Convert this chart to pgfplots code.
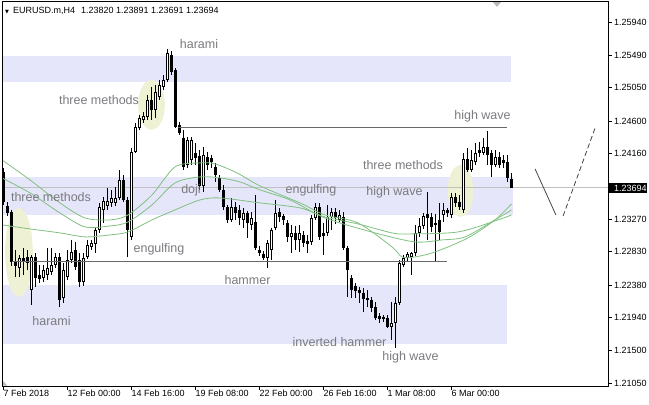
\documentclass[border=0pt]{standalone}
\usepackage{fontspec}
\setmainfont{Liberation Sans}
\newfontfamily\dejavu{DejaVu Sans}
\usepackage{pgfplots}
\pgfplotsset{compat=1.18}
\usepackage{pgfplotstable}

\definecolor{band}{RGB}{230,230,250}
\definecolor{ellip}{RGB}{238,241,212}
\definecolor{ma}{RGB}{128,192,128}
\definecolor{trend}{RGB}{105,105,105}
\definecolor{pline}{RGB}{192,192,192}
\definecolor{lbl}{RGB}{122,122,128}
\definecolor{fc}{RGB}{70,70,70}

% H4 bars, i = bar index (4 px per bar)
\pgfplotstableread{
i o h l c
0 1.23910 1.23964 1.23464 1.23504
1 1.23450 1.23504 1.23315 1.23355
2 1.23369 1.23396 1.22638 1.22692
3 1.22706 1.22855 1.22489 1.22638
4 1.22611 1.22787 1.22489 1.22746
5 1.22706 1.22882 1.22516 1.22746
6 1.22760 1.22855 1.22584 1.22679
7 1.22313 1.22787 1.22110 1.22760
8 1.22760 1.22814 1.22354 1.22476
9 1.22516 1.22652 1.22408 1.22462
10 1.22476 1.22652 1.22421 1.22584
11 1.22516 1.22882 1.22448 1.22611
12 1.22557 1.22882 1.22516 1.22652
13 1.22652 1.22814 1.22611 1.22760
14 1.22760 1.22814 1.22083 1.22178
15 1.22205 1.22679 1.22137 1.22584
16 1.22489 1.22855 1.22448 1.22719
17 1.22719 1.22990 1.22679 1.22827
18 1.22855 1.22963 1.22584 1.22625
19 1.22719 1.22814 1.22354 1.22421
20 1.22421 1.22814 1.22367 1.22746
21 1.22760 1.22990 1.22733 1.22922
22 1.22895 1.22990 1.22855 1.22949
23 1.22936 1.23152 1.22814 1.23125
24 1.23125 1.23491 1.23085 1.23437
25 1.23396 1.23572 1.23220 1.23518
26 1.23450 1.23694 1.23396 1.23518
27 1.23491 1.23667 1.23437 1.23558
28 1.23491 1.23707 1.23450 1.23558
29 1.23558 1.23937 1.23531 1.23802
30 1.23802 1.23870 1.23504 1.23531
31 1.23531 1.23572 1.22760 1.23125
32 1.23031 1.24235 1.22990 1.24181
33 1.24181 1.24573 1.24167 1.24519
34 1.24506 1.24682 1.24479 1.24641
35 1.24614 1.24722 1.24573 1.24668
36 1.24655 1.24952 1.24614 1.24885
37 1.24885 1.25061 1.24614 1.24749
38 1.24749 1.25088 1.24641 1.24993
39 1.24925 1.25155 1.24885 1.25088
40 1.25061 1.25223 1.25020 1.25155
41 1.25155 1.25575 1.25128 1.25521
42 1.25494 1.25548 1.25223 1.25264
43 1.25291 1.25318 1.24506 1.24519
44 1.24546 1.24587 1.24411 1.24438
45 1.24370 1.24479 1.23937 1.23978
46 1.24005 1.24384 1.23964 1.24343
47 1.24073 1.24384 1.24005 1.24343
48 1.24167 1.24303 1.24005 1.24100
49 1.24127 1.24208 1.23667 1.23721
50 1.23721 1.24249 1.23639 1.24140
51 1.24113 1.24181 1.23937 1.24005
52 1.24100 1.24140 1.23964 1.24046
53 1.23978 1.24032 1.23775 1.23870
54 1.23829 1.23870 1.23639 1.23667
55 1.23667 1.23734 1.23396 1.23437
56 1.23437 1.23464 1.23220 1.23261
57 1.23261 1.23558 1.23233 1.23437
58 1.23437 1.23504 1.23261 1.23355
59 1.23396 1.23464 1.23193 1.23288
60 1.23261 1.23423 1.23152 1.23355
61 1.23355 1.23382 1.23017 1.23220
62 1.23193 1.23369 1.23125 1.23288
63 1.23233 1.23599 1.22855 1.22882
64 1.22855 1.22909 1.22773 1.22814
65 1.22800 1.22841 1.22719 1.22746
66 1.22746 1.22990 1.22611 1.22949
67 1.22855 1.23152 1.22719 1.23125
68 1.23152 1.23531 1.23125 1.23355
69 1.23369 1.23423 1.23233 1.23301
70 1.23315 1.23342 1.23193 1.23261
71 1.23220 1.23261 1.22963 1.23031
72 1.23031 1.23193 1.22814 1.23085
73 1.23085 1.23179 1.22855 1.22990
74 1.22990 1.23193 1.22827 1.23085
75 1.23058 1.23112 1.22895 1.22949
76 1.22936 1.23058 1.22814 1.22976
77 1.22963 1.23328 1.22922 1.23288
78 1.23288 1.23491 1.23261 1.23437
79 1.23437 1.23491 1.22990 1.23031
80 1.23044 1.23220 1.22787 1.23085
81 1.23085 1.23464 1.23044 1.23301
82 1.23301 1.23423 1.23125 1.23369
83 1.23369 1.23423 1.23206 1.23288
84 1.23261 1.23396 1.23233 1.23328
85 1.23301 1.23369 1.22855 1.22882
86 1.22882 1.22909 1.22218 1.22584
87 1.22476 1.22516 1.22205 1.22313
88 1.22367 1.22408 1.22205 1.22300
89 1.22313 1.22354 1.22137 1.22273
90 1.22273 1.22340 1.22015 1.22191
91 1.22178 1.22313 1.22083 1.22205
92 1.22178 1.22218 1.22015 1.22070
93 1.22083 1.22151 1.21907 1.21934
94 1.21961 1.22002 1.21867 1.21921
95 1.21921 1.21975 1.21880 1.21948
96 1.21934 1.21975 1.21799 1.21812
97 1.21812 1.22151 1.21636 1.21867
98 1.21867 1.22218 1.21528 1.22137
99 1.22137 1.22719 1.22110 1.22679
100 1.22652 1.22787 1.22625 1.22746
101 1.22746 1.22827 1.22692 1.22800
102 1.22760 1.22827 1.22516 1.22814
103 1.22814 1.23193 1.22773 1.23085
104 1.23085 1.23288 1.23031 1.23179
105 1.23179 1.23355 1.23139 1.23315
106 1.23342 1.23639 1.22990 1.23288
107 1.23301 1.23355 1.23098 1.23166
108 1.23193 1.23342 1.22692 1.23220
109 1.23261 1.23491 1.22990 1.23098
110 1.23328 1.23491 1.23233 1.23396
111 1.23355 1.23423 1.23301 1.23396
112 1.23328 1.23626 1.23288 1.23572
113 1.23572 1.23626 1.23437 1.23491
114 1.23504 1.23599 1.23396 1.23437
115 1.23396 1.24167 1.23355 1.24086
116 1.24086 1.24235 1.23910 1.23937
117 1.23937 1.24208 1.23910 1.24073
118 1.24046 1.24303 1.24005 1.24167
119 1.24167 1.24316 1.24113 1.24208
120 1.24167 1.24370 1.24140 1.24249
121 1.24249 1.24465 1.24005 1.24140
122 1.24167 1.24208 1.23843 1.24005
123 1.24005 1.24208 1.23978 1.24113
124 1.24113 1.24181 1.23964 1.24005
125 1.24032 1.24140 1.23964 1.24073
126 1.24046 1.24140 1.23775 1.23829
127 1.23820 1.23891 1.23691 1.23694
}\candles

\pgfplotsset{
  candle/.style 2 args={forget plot, draw=none, mark=none,
    error bars/y dir=both, error bars/y explicit, error bars/error mark=none,
    error bars/draw error bar/.code 2 args={\draw[#1, line width=#2, line cap=butt] ##1 -- ##2;}},
}

\begin{document}
\begin{tikzpicture}
\begin{axis}[
  scale only axis,
  width=606bp, height=384bp,
  xmin=-0.375, xmax=151.125,
  ymin=1.21013, ymax=1.26210,
  axis on top,
  axis line style={line width=1bp, black},
  tick align=outside,
  major tick length=4bp,
  tick style={black, line width=0.8bp},
  xtick pos=left, ytick pos=right,
  yticklabel pos=right,
  xtick={0,16,32,48,64,80,96,112},
  xticklabels={7 Feb 2018,12 Feb 00:00,14 Feb 16:00,19 Feb 08:00,22 Feb 00:00,26 Feb 16:00,1 Mar 08:00,6 Mar 00:00},
  ytick={1.2105,1.215,1.2194,1.2238,1.2283,1.2327,1.2416,1.246,1.2505,1.2549,1.2594},
  yticklabels={1.21050,1.21500,1.21940,1.22380,1.22830,1.23270,1.24160,1.24600,1.25050,1.25490,1.25940},
  ticklabel style={font=\fontsize{9bp}{10bp}\selectfont},
  xticklabel style={anchor=north west, inner sep=0pt},
  yticklabel style={anchor=west, inner sep=0pt, xshift=2bp},
]

% zones
\addplot[fill=band, draw=none, forget plot] coordinates {(-1,1.25480)(126.9,1.25480)(126.9,1.25128)(-1,1.25128)};
\addplot[fill=band, draw=none, forget plot] coordinates {(-1,1.23842)(127.4,1.23842)(127.4,1.23328)(-1,1.23328)};
\addplot[fill=band, draw=none, forget plot] coordinates {(-1,1.22380)(125.9,1.22380)(125.9,1.21582)(-1,1.21582)};

% highlighted patterns
\addplot[fill=ellip, draw=none, smooth, forget plot] coordinates {
(40.375,1.24817)(39.923,1.24986)(38.688,1.25110)(37,1.25155)(35.312,1.25110)(34.077,1.24986)
(33.625,1.24817)(34.077,1.24648)(35.312,1.24524)(37,1.24479)(38.688,1.24524)(39.923,1.24648)(40.375,1.24817)};
\addplot[fill=ellip, draw=none, smooth, forget plot] coordinates {
(7.375,1.22821)(6.906,1.23122)(5.625,1.23342)(3.875,1.23423)(2.125,1.23342)(0.844,1.23122)
(0.375,1.22821)(0.844,1.22520)(2.125,1.22300)(3.875,1.22219)(5.625,1.22300)(6.906,1.22520)(7.375,1.22821)};
\addplot[fill=ellip, draw=none, smooth, forget plot] coordinates {
(117.5,1.23653)(117.065,1.23829)(115.875,1.23958)(114.25,1.24005)(112.625,1.23958)(111.435,1.23829)
(111,1.23653)(111.435,1.23477)(112.625,1.23348)(114.25,1.23301)(115.875,1.23348)(117.065,1.23477)(117.5,1.23653)};

% current price line
\addplot[pline, line width=1bp, forget plot] coordinates {(-1,1.23694)(152,1.23694)};

% wicks
\addplot[candle={black}{1bp}]
  table[x=i, y expr={(\thisrow{h}+\thisrow{l})/2}, y error expr={(\thisrow{h}-\thisrow{l})/2}] {\candles};
% bear bodies
\addplot[candle={black}{3bp}, restrict expr to domain={\thisrow{c}-\thisrow{o}}{-1:0}]
  table[x=i, y expr={(\thisrow{o}+\thisrow{c})/2}, y error expr={abs(\thisrow{o}-\thisrow{c})/2}] {\candles};
% bull bodies
\addplot[candle={black}{3bp}, restrict expr to domain={\thisrow{c}-\thisrow{o}}{0:1}]
  table[x=i, y expr={(\thisrow{o}+\thisrow{c})/2}, y error expr={abs(\thisrow{o}-\thisrow{c})/2}] {\candles};
\addplot[candle={white}{1bp}, restrict expr to domain={\thisrow{c}-\thisrow{o}}{0.0005:1}]
  table[x=i, y expr={(\thisrow{o}+\thisrow{c})/2}, y error expr={abs(\thisrow{o}-\thisrow{c})/2-0.000135}] {\candles};

% moving averages
\addplot[ma, line width=0.8bp, smooth, tension=0.5, forget plot] coordinates {
(-0.375,1.24073)(6.625,1.23802)(14.125,1.23491)(20.375,1.23288)(26.625,1.23261)(31.125,1.23328)
(37.125,1.23599)(42.875,1.23978)(49.125,1.24032)(52.875,1.24019)(58.375,1.23897)(64.125,1.23721)
(74.125,1.23491)(80.375,1.23328)(88.625,1.23220)(97.125,1.22895)(99.625,1.22760)(102.875,1.22760)
(107.875,1.22827)(116.125,1.23017)(122.875,1.23261)(127,1.23477)};
\addplot[ma, line width=0.8bp, smooth, tension=0.5, forget plot] coordinates {
(-0.375,1.23829)(6.625,1.23626)(14.125,1.23355)(20.375,1.23166)(26.625,1.23179)(31.125,1.23233)
(37.125,1.23464)(42.875,1.23761)(49.125,1.23843)(54.125,1.23829)(59.125,1.23775)(64.125,1.23667)
(71.625,1.23531)(80.375,1.23288)(92.875,1.23085)(102.875,1.22963)(109.625,1.22990)(115.375,1.23031)
(122.875,1.23261)(127,1.23396)};
\addplot[ma, line width=0.8bp, smooth, tension=0.5, forget plot] coordinates {
(-0.375,1.23193)(6.625,1.23139)(14.125,1.23085)(20.375,1.23031)(26.625,1.23058)(31.125,1.23098)
(37.125,1.23261)(42.875,1.23396)(49.125,1.23531)(54.125,1.23558)(64.125,1.23491)(74.125,1.23423)
(80.375,1.23301)(88.625,1.23206)(97.125,1.23085)(101.125,1.23071)(113.625,1.23098)(123.625,1.23261)
(127,1.23328)};

% levels
\addplot[trend, line width=1bp, forget plot] coordinates {(43.6,1.24515)(125.9,1.24515)};
\addplot[trend, line width=1bp, forget plot] coordinates {(2.1,1.22701)(110.9,1.22701)};

% projection
\addplot[fc, line width=0.8bp, forget plot] coordinates {(132.9,1.23950)(138.1,1.23328)};
\addplot[fc, line width=0.8bp, dash pattern=on 5bp off 3bp, forget plot] coordinates {(139.9,1.23314)(147.9,1.24505)};

% pattern names
\begin{scope}[every node/.style={text=lbl, font=\fontsize{12.5bp}{14bp}\selectfont, anchor=base, inner sep=0pt}]
\node at (axis cs:48.875,1.25584) {harami};
\node at (axis cs:23.875,1.24817) {three methods};
\node at (axis cs:11.875,1.23508) {three methods};
\node at (axis cs:46.875,1.23612) {doji};
\node at (axis cs:76.875,1.23612) {engulfing};
\node at (axis cs:38.875,1.22821) {engulfing};
\node at (axis cs:61,1.22381) {hammer};
\node at (axis cs:12,1.21826) {harami};
\node at (axis cs:84,1.21546) {inverted hammer};
\node at (axis cs:101.75,1.21352) {high wave};
\node at (axis cs:99.875,1.23937) {three methods};
\node at (axis cs:97.75,1.23585) {high wave};
\node at (axis cs:119.75,1.24621) {high wave};
\end{scope}

% header
\node[anchor=base west, inner sep=0pt, font=\fontsize{9bp}{10bp}\selectfont]
  at ([xshift=3bp,yshift=-12bp]rel axis cs:0,1)
  {{\dejavu\fontsize{5bp}{5bp}\selectfont ▼}\hspace{4bp}EURUSD.m,H4\hspace{6bp}1.23820 1.23891 1.23691 1.23694};
\fill[gray!55] ([xshift=-4bp]rel axis cs:0.8168,1) -- ([xshift=4bp]rel axis cs:0.8168,1) -- ([yshift=-5bp]rel axis cs:0.8168,1) -- cycle;
\fill[gray!55] ([xshift=0.5bp,yshift=0.5bp]rel axis cs:0,0) -- ([xshift=5.5bp,yshift=0.5bp]rel axis cs:0,0) -- ([xshift=0.5bp,yshift=5.5bp]rel axis cs:0,0) -- cycle;

\coordinate (lasttag) at (axis cs:151.125,1.23694);
\end{axis}
% last price tag
\node[fill=black, text=white, anchor=west, inner xsep=0pt, inner ysep=0pt, minimum height=10bp,
  font=\fontsize{9bp}{10bp}\selectfont] at (lasttag) {\hspace{6bp}1.23694\hspace{6bp}};
\pgfresetboundingbox
\path ([shift={(-2bp,-19bp)}]current axis.south west) rectangle ([shift={(41bp,2bp)}]current axis.north east);
\end{tikzpicture}
\end{document}
